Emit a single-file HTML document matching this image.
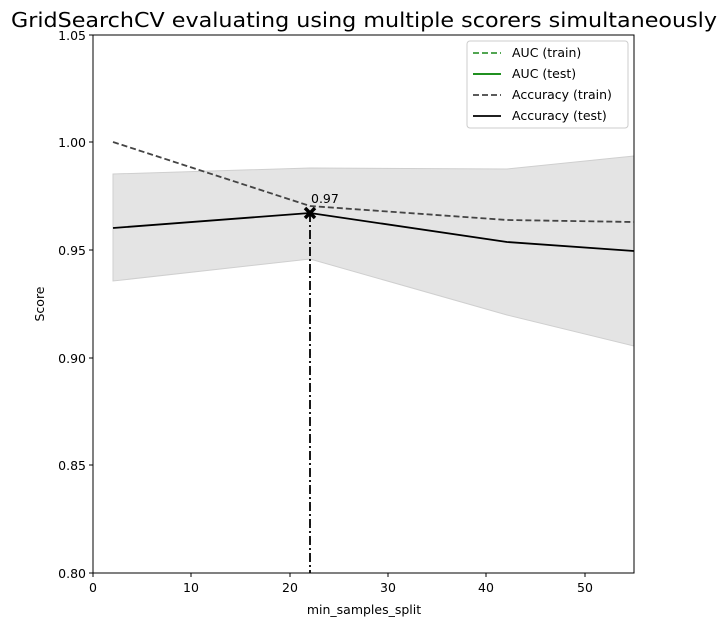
<!DOCTYPE html>
<html><head><style>body{margin:0;background:#fff}svg{font-family:"DejaVu Sans","Liberation Sans",sans-serif}</style></head><body>
<svg width="728" height="626" viewBox="0 0 728 626" xmlns="http://www.w3.org/2000/svg">
<rect width="728" height="626" fill="#fff"/>
<text x="364" y="27" font-size="20.5" text-anchor="middle" textLength="706" lengthAdjust="spacingAndGlyphs">GridSearchCV evaluating using multiple scorers simultaneously</text>
<defs><clipPath id="c"><rect x="93" y="35" width="541" height="538"/></clipPath></defs>
<g clip-path="url(#c)">
<polygon points="113,174 310,168 507,169 634,156 634,346 507,315 310,259 113,281" fill="#e4e4e4" stroke="#cfcfcf" stroke-width="1"/>
<polyline points="113,142 310,206 507,220 634,222" fill="none" stroke="#444" stroke-width="1.8" stroke-dasharray="6,3"/>
<polyline points="113,228 310,213 507,242 634,251" fill="none" stroke="#000" stroke-width="1.8"/>
<line x1="310" y1="213" x2="310" y2="573" stroke="#000" stroke-width="1.8" stroke-dasharray="9,3,2,3"/>
</g>
<path d="M305,208 L315,218 M315,208 L305,218" stroke="#000" stroke-width="3.5"/>
<text x="311" y="203" font-size="12.5">0.97</text>
<rect x="93" y="35" width="541" height="538" fill="none" stroke="#000" stroke-width="1"/>
<g font-size="12.5" text-anchor="middle">
<g stroke="#000"><line x1="93" y1="573" x2="93" y2="577"/><line x1="191" y1="573" x2="191" y2="577"/><line x1="290" y1="573" x2="290" y2="577"/><line x1="388" y1="573" x2="388" y2="577"/><line x1="486" y1="573" x2="486" y2="577"/><line x1="585" y1="573" x2="585" y2="577"/></g>
<text x="93" y="592">0</text><text x="191" y="592">10</text><text x="290" y="592">20</text><text x="388" y="592">30</text><text x="486" y="592">40</text><text x="585" y="592">50</text>
<text x="364" y="614">min_samples_split</text>
</g>
<g font-size="12.5" text-anchor="end">
<g stroke="#000"><line x1="89" y1="35" x2="93" y2="35"/><line x1="89" y1="142" x2="93" y2="142"/><line x1="89" y1="250" x2="93" y2="250"/><line x1="89" y1="358" x2="93" y2="358"/><line x1="89" y1="465" x2="93" y2="465"/><line x1="89" y1="573" x2="93" y2="573"/></g>
<text x="86" y="40">1.05</text><text x="86" y="147">1.00</text><text x="86" y="255">0.95</text><text x="86" y="363">0.90</text><text x="86" y="470">0.85</text><text x="86" y="578">0.80</text>
</g>
<text x="44" y="304" font-size="12.5" text-anchor="middle" transform="rotate(-90 44 304)">Score</text>
<rect x="467" y="41" width="161" height="87" rx="3" fill="#fff" stroke="#ccc"/>
<g font-size="12.5">
<line x1="473" y1="53" x2="501" y2="53" stroke="#3a9a3a" stroke-width="1.8" stroke-dasharray="6,3"/><text x="512" y="57">AUC (train)</text>
<line x1="473" y1="74" x2="501" y2="74" stroke="#008000" stroke-width="1.8"/><text x="512" y="78">AUC (test)</text>
<line x1="473" y1="95" x2="501" y2="95" stroke="#444" stroke-width="1.8" stroke-dasharray="6,3"/><text x="512" y="99">Accuracy (train)</text>
<line x1="473" y1="116" x2="501" y2="116" stroke="#000" stroke-width="1.8"/><text x="512" y="120">Accuracy (test)</text>
</g>
</svg>
</body></html>
